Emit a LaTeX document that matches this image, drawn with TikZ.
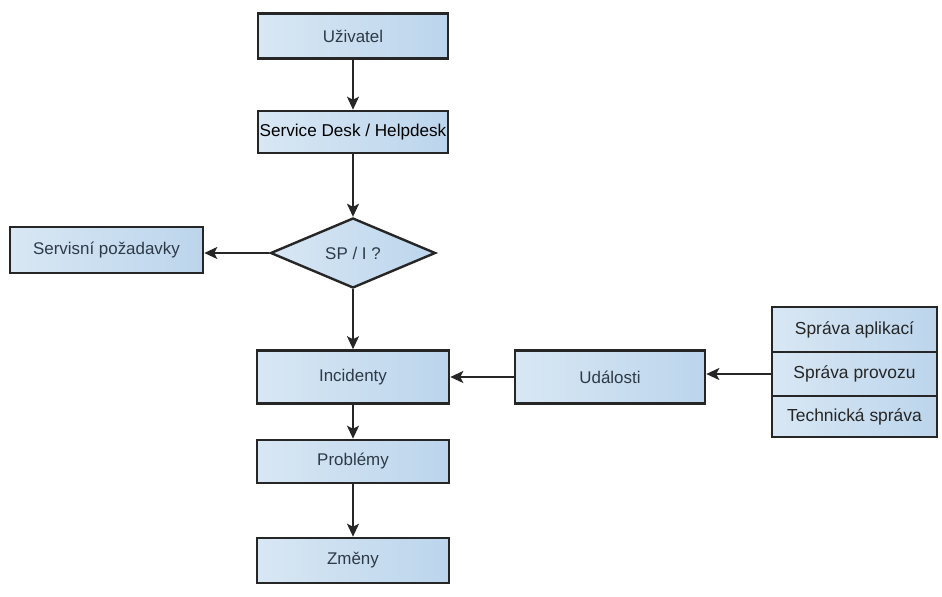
\documentclass[tikz,border=0pt]{standalone}
\usepackage{fontspec}
\setmainfont{Liberation Sans}
\usetikzlibrary{arrows.meta,shapes.geometric}
\definecolor{boxL}{HTML}{D8E7F4}
\definecolor{boxR}{HTML}{BCD5EC}
\definecolor{edge}{HTML}{262626}
\definecolor{txt}{HTML}{2E3A48}
\begin{document}
\begin{tikzpicture}[x=1bp,y=-1bp,
  box/.style={draw=edge, line width=2.6bp, left color=boxL, right color=boxR, rectangle, inner sep=0pt, text=txt, font=\fontsize{17}{19}\selectfont},
  dia/.style={draw=edge, line width=2.4bp, left color=boxL, right color=boxR, diamond, inner sep=0pt, text=txt, font=\fontsize{17}{19}\selectfont},
  stk/.style={box, minimum width=165bp, text=black!85, font=\fontsize{17.5}{19}\selectfont},
  conn/.style={draw=edge, line width=1.8bp, -{Stealth[length=13bp,width=12bp,inset=3bp]}}]
\useasboundingbox (0,0) rectangle (942,597);
\node[box, minimum width=190bp, minimum height=45bp] (u) at (353,36) {Uživatel};
\node[box, minimum width=190bp, minimum height=42bp, text=black, font=\fontsize{17.2}{19}\selectfont] (sd) at (353,132) {Service Desk / Helpdesk};
\node[dia, minimum width=165bp, minimum height=70bp] (d) at (353,253) {SP / I ?};
\node[box, minimum width=193bp, minimum height=46bp] (sp) at (106.5,250) {Servisní požadavky};
\node[box, minimum width=192bp, minimum height=53bp] (inc) at (353,377) {Incidenty};
\node[box, minimum width=190bp, minimum height=53bp] (ud) at (610,377) {Události};
\node[stk, minimum height=45bp] (s1) at (854.5,329.5) {Správa aplikací};
\node[stk, minimum height=44bp] (s2) at (854.5,374) {Správa provozu};
\node[stk, minimum height=41bp] (s3) at (854.5,416.5) {Technická správa};
\node[box, minimum width=192bp, minimum height=43bp] (pr) at (353,461.5) {Problémy};
\node[box, minimum width=192bp, minimum height=45bp] (zm) at (353,560.5) {Změny};
\draw[conn] (u.south) -- (sd.north);
\draw[conn] (sd.south) -- (d.north);
\draw[conn] (d.west) -- (d.west -| sp.east);
\draw[conn] (d.south) -- (inc.north);
\draw[conn] (ud.west) -- (inc.east);
\draw[conn] (s2.west) -- (s2.west -| ud.east);
\draw[conn] (inc.south) -- (pr.north);
\draw[conn] (pr.south) -- (zm.north);
\end{tikzpicture}
\end{document}
